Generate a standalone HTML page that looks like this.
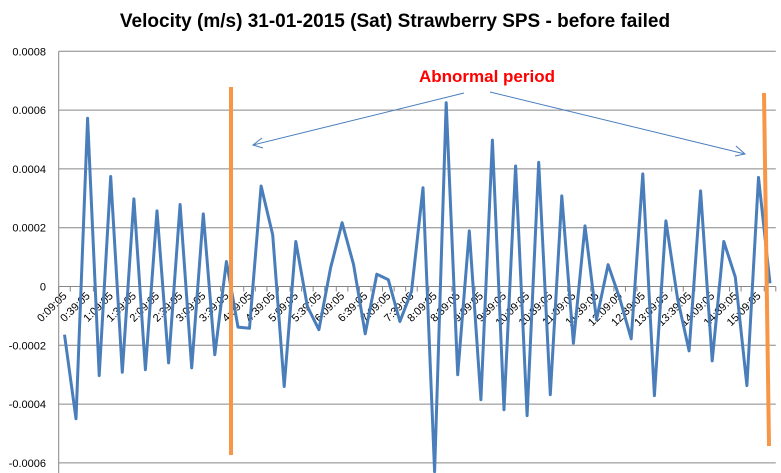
<!DOCTYPE html>
<html><head><meta charset="utf-8"><style>
body{margin:0;background:#fff}
svg{display:block;font-family:"Liberation Sans",sans-serif}
</style></head><body>
<svg id="chart" width="781" height="473">
<text x="395" y="27" text-anchor="middle" font-size="19" font-weight="bold" fill="#000">Velocity (m/s) 31-01-2015 (Sat) Strawberry SPS - before failed</text>
<g id="grid"></g><g id="xaxis"></g><g id="yaxis"></g><g id="series"></g>
<line x1="231" y1="87" x2="231" y2="455" stroke="#f79646" stroke-width="4"/>
<line x1="764" y1="93" x2="769" y2="446" stroke="#f79646" stroke-width="4"/>
<text x="487" y="82" text-anchor="middle" font-size="17" font-weight="bold" fill="#ff0000">Abnormal period</text>
<g stroke="#4a7ebb" stroke-width="1" fill="none">
<line x1="464" y1="93" x2="253" y2="145"/><polyline points="262,138 253,145 263,148"/>
<line x1="490" y1="92" x2="745" y2="154"/><polyline points="736,146 745,154 735,156"/>
</g>
</svg>
<script>
const values=[-1.64,-4.5,5.72,-3.03,3.74,-2.92,2.98,-2.83,2.57,-2.6,2.79,-2.77,2.47,-2.32,0.85,-1.38,-1.42,3.42,1.76,-3.4,1.53,-0.68,-1.47,0.62,2.17,0.74,-1.61,0.42,0.23,-1.19,-0.17,3.36,-6.3,6.25,-3.0,1.89,-3.85,4.98,-4.19,4.1,-4.39,4.22,-3.68,3.08,-1.93,2.06,-1.13,0.74,-0.4,-1.78,3.83,-3.71,2.23,-0.4,-2.19,3.25,-2.53,1.53,0.32,-3.37,3.71,0.11].map(v=>v*0.0001);
const yTicks=[0.0008,0.0006,0.0004,0.0002,0,-0.0002,-0.0004,-0.0006];
const yTickLabels=["0.0008","0.0006","0.0004","0.0002","0","-0.0002","-0.0004","-0.0006"];
const categories=[];
for(let i=0;i<values.length;i++){const m=9+15*i;categories.push(Math.floor(m/60)+":"+String(m%60).padStart(2,"0")+":05");}
const NS="http://www.w3.org/2000/svg";
const L=58.7,R=775.8,Y0=286.5,PX=294000;
const cw=(R-L)/categories.length;
const x=i=>L+cw*(i+0.5);
const y=v=>Y0-v*PX;
function mk(tag,attrs,parent){const e=document.createElementNS(NS,tag);for(const k in attrs)e.setAttribute(k,attrs[k]);document.getElementById(parent).appendChild(e);return e;}
yTicks.forEach((t,i)=>{
 const g=mk("line",{x1:L,x2:R,y1:y(t),y2:y(t),stroke:"#868686","stroke-width":1},"grid");
 
 
 const tx=mk("text",{x:46,y:y(t)+4,"text-anchor":"end","font-size":"11",fill:"#000"},"yaxis");
 tx.textContent=yTickLabels[i];
 
 
});
const ax=mk("line",{x1:L,x2:L,y1:y(0.0008),y2:473,stroke:"#868686"},"yaxis");


for(let i=0;i<=categories.length;i++){
 const tk=mk("line",{x1:L+cw*i,x2:L+cw*i,y1:Y0,y2:Y0+5,stroke:"#868686"},"xaxis");
 
 
}
categories.forEach((c,i)=>{
 if(i%2)return;
 const px=x(i)+3,py=Y0+10;
 const t=mk("text",{x:px,y:py,"text-anchor":"end","font-size":"11",fill:"#000",transform:`rotate(-45 ${px} ${py})`},"xaxis");
 t.textContent=c;
 
 
});
const p=mk("polyline",{points:values.map((v,i)=>x(i).toFixed(1)+","+y(v).toFixed(1)).join(" "),fill:"none",stroke:"#4a7ebb","stroke-width":3,"stroke-linejoin":"round"},"series");


</script>
</body></html>
